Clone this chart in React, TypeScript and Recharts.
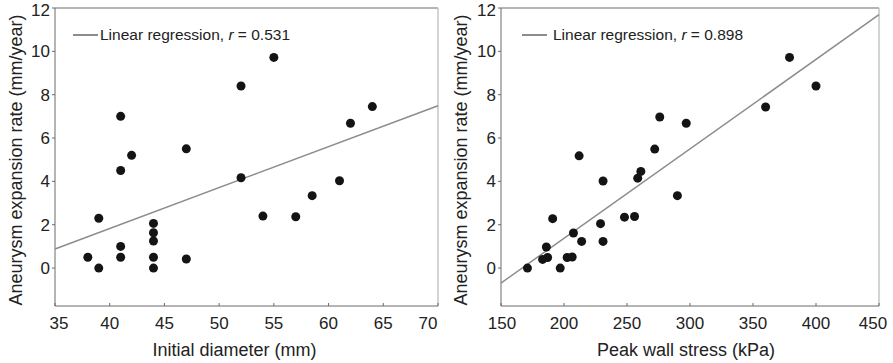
import React from "react";
import {
  Legend,
  ReferenceLine,
  Scatter,
  ScatterChart,
  XAxis,
  YAxis,
} from "recharts";

const FONT = '"Liberation Sans", Arial, Helvetica, sans-serif';

// left panel: initial diameter (mm) vs expansion rate (mm/year)
const diameterPoints = [
  { x: 38, y: 0.5 }, { x: 39, y: 0.0 }, { x: 39, y: 2.3 },
  { x: 41, y: 7.0 }, { x: 41, y: 4.5 }, { x: 42, y: 5.2 },
  { x: 41, y: 1.0 }, { x: 41, y: 0.5 }, { x: 44, y: 2.06 },
  { x: 44, y: 1.63 }, { x: 44, y: 1.25 }, { x: 44, y: 0.5 },
  { x: 44, y: 0.0 }, { x: 47, y: 5.5 }, { x: 47, y: 0.42 },
  { x: 52, y: 8.4 }, { x: 52, y: 4.17 }, { x: 55, y: 9.72 },
  { x: 54, y: 2.4 }, { x: 57, y: 2.37 }, { x: 58.5, y: 3.34 },
  { x: 61, y: 4.03 }, { x: 62, y: 6.68 }, { x: 64, y: 7.45 },
];
const diameterFit = [{ x: 35, y: 0.88 }, { x: 70, y: 7.49 }];
const diameterTicks = [35, 40, 45, 50, 55, 60, 65, 70];

// right panel: peak wall stress (kPa) vs expansion rate (mm/year)
const stressPoints = [
  { x: 171, y: 0.0 }, { x: 183, y: 0.4 }, { x: 187, y: 0.49 },
  { x: 186, y: 0.97 }, { x: 191, y: 2.28 }, { x: 197, y: 0.0 },
  { x: 202.5, y: 0.49 }, { x: 206.5, y: 0.51 }, { x: 207.5, y: 1.62 },
  { x: 212, y: 5.18 }, { x: 214, y: 1.23 }, { x: 229, y: 2.05 },
  { x: 231, y: 4.02 }, { x: 231, y: 1.23 }, { x: 248, y: 2.35 },
  { x: 256, y: 2.38 }, { x: 258.5, y: 4.15 }, { x: 261, y: 4.46 },
  { x: 272, y: 5.49 }, { x: 276, y: 6.97 }, { x: 290, y: 3.34 },
  { x: 297, y: 6.68 }, { x: 360, y: 7.43 }, { x: 379, y: 9.72 },
  { x: 400, y: 8.4 },
];
const stressFit = [{ x: 150, y: -0.69 }, { x: 450, y: 11.69 }];
const stressTicks = [150, 200, 250, 300, 350, 400, 450];

const rateTicks = [0, 2, 4, 6, 8, 10, 12];
const yTitle = "Aneurysm expansion rate (mm/year)";

const Dot = (props: any) => (
  <circle cx={props.cx} cy={props.cy} r={4.5} fill="#141414" />
);
const NoDot = () => <g />;

const makeXTick = (shift: Record<number, number>) => (props: any) => {
  const { x, y, payload } = props;
  return (
    <text
      x={x + (shift[payload.value] ?? 0)}
      y={y}
      dy="0.71em"
      textAnchor="middle"
      fontSize={17}
      fill="#222"
    >
      {payload.value}
    </text>
  );
};

const makeXTitle = (title: string, dx: number) => (props: any) => {
  const { viewBox } = props;
  const cx = viewBox.x + viewBox.width / 2 + dx;
  return (
    <text x={cx} y={viewBox.y + 50} textAnchor="middle" fontSize={18} fill="#222">
      {title}
    </text>
  );
};

const makeYTitle = (cx: number) => (props: any) => {
  const { viewBox } = props;
  const cy = viewBox.y + viewBox.height / 2 + 3;
  return (
    <text
      x={cx}
      y={cy}
      transform={`rotate(-90 ${cx} ${cy})`}
      textAnchor="middle"
      dominantBaseline="central"
      fontSize={18}
      fill="#222"
    >
      {yTitle}
    </text>
  );
};

const makeLegend = (r: string, gap: number) => () => (
  <div style={{ display: "flex", alignItems: "center", fontSize: 15.5, color: "#222", fontFamily: FONT, lineHeight: "18px" }}>
    <span style={{ display: "inline-block", width: 25, borderTop: "2px solid #8c8c8c", marginRight: gap }} />
    <span>
      Linear regression, <i>r</i> = {r}
    </span>
  </div>
);

interface PanelProps {
  width: number;
  yAxisWidth: number;
  right: number;
  points: { x: number; y: number }[];
  fit: { x: number; y: number }[];
  ticks: number[];
  xTitle: string;
  xTitleDx: number;
  tickShift: Record<number, number>;
  yTitleX: number;
  r: string;
  legendLeft: number;
  legendGap: number;
}

function Panel(p: PanelProps) {
  const xMin = p.ticks[0];
  const xMax = p.ticks[p.ticks.length - 1];
  return (
    <ScatterChart
      width={p.width}
      height={363}
      margin={{ top: 8, right: p.right, bottom: 0, left: 0 }}
      style={{ fontFamily: FONT }}
    >
      <XAxis
        type="number"
        dataKey="x"
        domain={[xMin, xMax]}
        ticks={p.ticks}
        height={57}
        stroke="#6a6a6a"
        tickSize={-3}
        tickMargin={14}
        tick={makeXTick(p.tickShift)}
        label={{ content: makeXTitle(p.xTitle, p.xTitleDx) }}
      />
      <YAxis
        type="number"
        dataKey="y"
        domain={[-1.75, 12]}
        ticks={rateTicks}
        width={p.yAxisWidth}
        stroke="#6a6a6a"
        tickSize={3}
        tickMargin={2}
        tick={{ fontSize: 17, fill: "#222" }}
        label={{ content: makeYTitle(p.yTitleX) }}
      />
      <ReferenceLine y={12} stroke="#9c9c9c" strokeWidth={1.5} />
      <ReferenceLine x={xMax} stroke="#c4c4c4" strokeWidth={1.5} />
      <Scatter
        data={p.fit}
        line={{ stroke: "#8c8c8c", strokeWidth: 1.5 }}
        shape={NoDot}
        isAnimationActive={false}
      />
      <Scatter data={p.points} shape={Dot} isAnimationActive={false} />
      <Legend
        layout="horizontal"
        verticalAlign="middle"
        align="center"
        content={makeLegend(p.r, p.legendGap)}
        wrapperStyle={{ left: p.legendLeft, top: 26, width: "auto", height: "auto" }}
      />
    </ScatterChart>
  );
}

export default function App() {
  return (
    <div style={{ position: "absolute", left: 0, top: 0, width: 893, height: 363, display: "flex", background: "#fff" }}>
      <Panel
        width={443}
        yAxisWidth={55}
        right={5}
        points={diameterPoints}
        fit={diameterFit}
        ticks={diameterTicks}
        xTitle="Initial diameter (mm)"
        xTitleDx={-12}
        tickShift={{ 35: 4, 70: -7 }}
        yTitleX={16}
        r="0.531"
        legendLeft={73}
        legendGap={2}
      />
      <Panel
        width={450}
        yAxisWidth={58}
        right={14}
        points={stressPoints}
        fit={stressFit}
        ticks={stressTicks}
        xTitle="Peak wall stress (kPa)"
        xTitleDx={-4}
        tickShift={{ 150: 1, 450: -6 }}
        yTitleX={18}
        r="0.898"
        legendLeft={79}
        legendGap={6}
      />
    </div>
  );
}
